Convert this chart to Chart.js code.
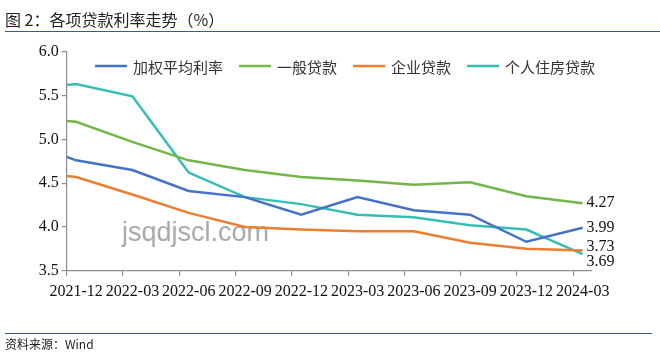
<!DOCTYPE html>
<html>
<head>
<meta charset="utf-8">
<script src="https://cdn.jsdelivr.net/npm/chart.js@4.4.1/dist/chart.umd.min.js"></script>
<style>
  html, body { margin: 0; padding: 0; background: #fff; }
  #wrap { position: relative; width: 660px; height: 359px; overflow: hidden; }
  #c { position: absolute; left: 0; top: 0; }
  .title { position: absolute; left: 5px; top: 7px; font: 16px "Noto Sans CJK SC", sans-serif; color: #222; }
  .rule { position: absolute; left: 5px; right: 0; height: 0; border-top: 1.5px solid #3c5a8a; }
  .src { position: absolute; left: 5px; top: 335px; font: 12px "Noto Sans CJK SC", "Liberation Sans", sans-serif; color: #222; }
</style>
</head>
<body>
<div id="wrap">
  <canvas id="c" width="660" height="359"></canvas>
  <div class="title">图 2：各项贷款利率走势（%）</div>
  <div class="rule" style="top:31px"></div>
  <div class="rule" style="top:333px; right:8px"></div>
  <div class="src">资料来源：Wind</div>
</div>
<script>
// 月份位置（从 2021-12 起算），季度数据
const xMonths = [0, 0.5, 3.5, 6.5, 9.5, 12.5, 15.5, 18.5, 21.5, 24.5, 27.5];
const xTickLabels = ['2021-12', '2022-03', '2022-06', '2022-09', '2022-12',
                     '2023-03', '2023-06', '2023-09', '2023-12', '2024-03'];

// 各项贷款利率（%）
const weighted   = [4.80, 4.76, 4.65, 4.41, 4.34, 4.14, 4.34, 4.19, 4.14, 3.83, 3.99];
const general    = [5.21, 5.20, 4.97, 4.76, 4.65, 4.57, 4.53, 4.48, 4.51, 4.35, 4.27];
const enterprise = [4.58, 4.57, 4.37, 4.16, 4.00, 3.97, 3.95, 3.95, 3.82, 3.75, 3.73];
const mortgage   = [5.62, 5.63, 5.49, 4.62, 4.34, 4.26, 4.14, 4.11, 4.02, 3.97, 3.69];

const seriesNames = ['加权平均利率', '一般贷款', '企业贷款', '个人住房贷款'];
const seriesColors = ['#4472C4', '#74B64A', '#ED7D31', '#35BFB2'];
const seriesData = [weighted, general, enterprise, mortgage];

const toPoints = arr => arr.map((v, i) => ({ x: xMonths[i], y: v }));

// 末端数值标签的上下微调，避免重叠
const endNudge = [0, 0, -4, 8];

const legendPlugin = {
  id: 'topLegend',
  afterDraw(chart) {
    const ctx = chart.ctx;
    ctx.save();
    ctx.font = '15px "Noto Sans CJK SC", sans-serif';
    ctx.textBaseline = 'middle';
    let x = 95;
    const y = 66;
    chart.data.datasets.forEach(ds => {
      ctx.strokeStyle = ds.borderColor;
      ctx.lineWidth = 2.5;
      ctx.beginPath();
      ctx.moveTo(x, y);
      ctx.lineTo(x + 32, y);
      ctx.stroke();
      ctx.fillStyle = '#333';
      ctx.fillText(ds.label, x + 38, y + 1);
      x += 38 + ctx.measureText(ds.label).width + 16;
    });
    ctx.restore();
  }
};

const endLabelPlugin = {
  id: 'endLabels',
  afterDatasetsDraw(chart) {
    const ctx = chart.ctx;
    ctx.save();
    ctx.font = '16px "Liberation Serif", serif';
    ctx.fillStyle = '#111';
    ctx.textBaseline = 'middle';
    chart.data.datasets.forEach((ds, i) => {
      const pts = chart.getDatasetMeta(i).data;
      const last = pts[pts.length - 1];
      const v = ds.data[ds.data.length - 1].y;
      ctx.fillText(v.toFixed(2), last.x + 4, last.y + endNudge[i]);
    });
    ctx.restore();
  }
};

const watermarkPlugin = {
  id: 'watermark',
  beforeDatasetsDraw(chart) {
    const ctx = chart.ctx;
    ctx.save();
    ctx.font = '27px "Liberation Sans", Arial, sans-serif';
    ctx.fillStyle = 'rgba(140,140,140,0.75)';
    ctx.textBaseline = 'alphabetic';
    ctx.fillText('jsqdjscl.com', 122, 241);
    ctx.restore();
  }
};

new Chart(document.getElementById('c'), {
  type: 'line',
  data: {
    datasets: seriesData.map((d, i) => ({
      label: seriesNames[i],
      data: toPoints(d),
      borderColor: seriesColors[i],
      backgroundColor: seriesColors[i],
      borderWidth: 2.5,
      pointRadius: 0,
      tension: 0
    }))
  },
  options: {
    responsive: false,
    animation: false,
    layout: { padding: { top: 51.7, right: 68, bottom: 58.3, left: 0 } },
    plugins: {
      legend: { display: false },
      tooltip: { enabled: false }
    },
    scales: {
      x: {
        type: 'linear',
        min: 0,
        max: 28,
        afterBuildTicks(scale) {
          scale.ticks = xTickLabels.map((_, i) => ({ value: i * 3 }));
        },
        afterFit(scale) { scale.height = 30; },
        border: { color: '#8c8c8c', width: 1.2 },
        grid: { drawOnChartArea: false, drawTicks: true, tickLength: 5, color: '#8c8c8c', lineWidth: 1.2 },
        ticks: {
          autoSkip: false,
          maxRotation: 0,
          padding: 6,
          labelOffset: 9.5,
          color: '#111',
          font: { family: '"Liberation Serif", serif', size: 16 },
          callback: v => xTickLabels[Math.round(v / 3)]
        }
      },
      y: {
        min: 3.5,
        max: 6.0,
        afterFit(scale) { scale.width = 66.7; },
        border: { color: '#8c8c8c', width: 1.2 },
        grid: { drawOnChartArea: false, drawTicks: true, tickLength: 5, color: '#8c8c8c', lineWidth: 1.2 },
        ticks: {
          stepSize: 0.5,
          padding: 3,
          color: '#111',
          font: { family: '"Liberation Serif", serif', size: 16 },
          callback: v => v.toFixed(1)
        }
      }
    }
  },
  plugins: [watermarkPlugin, endLabelPlugin, legendPlugin]
});
</script>
</body>
</html>
